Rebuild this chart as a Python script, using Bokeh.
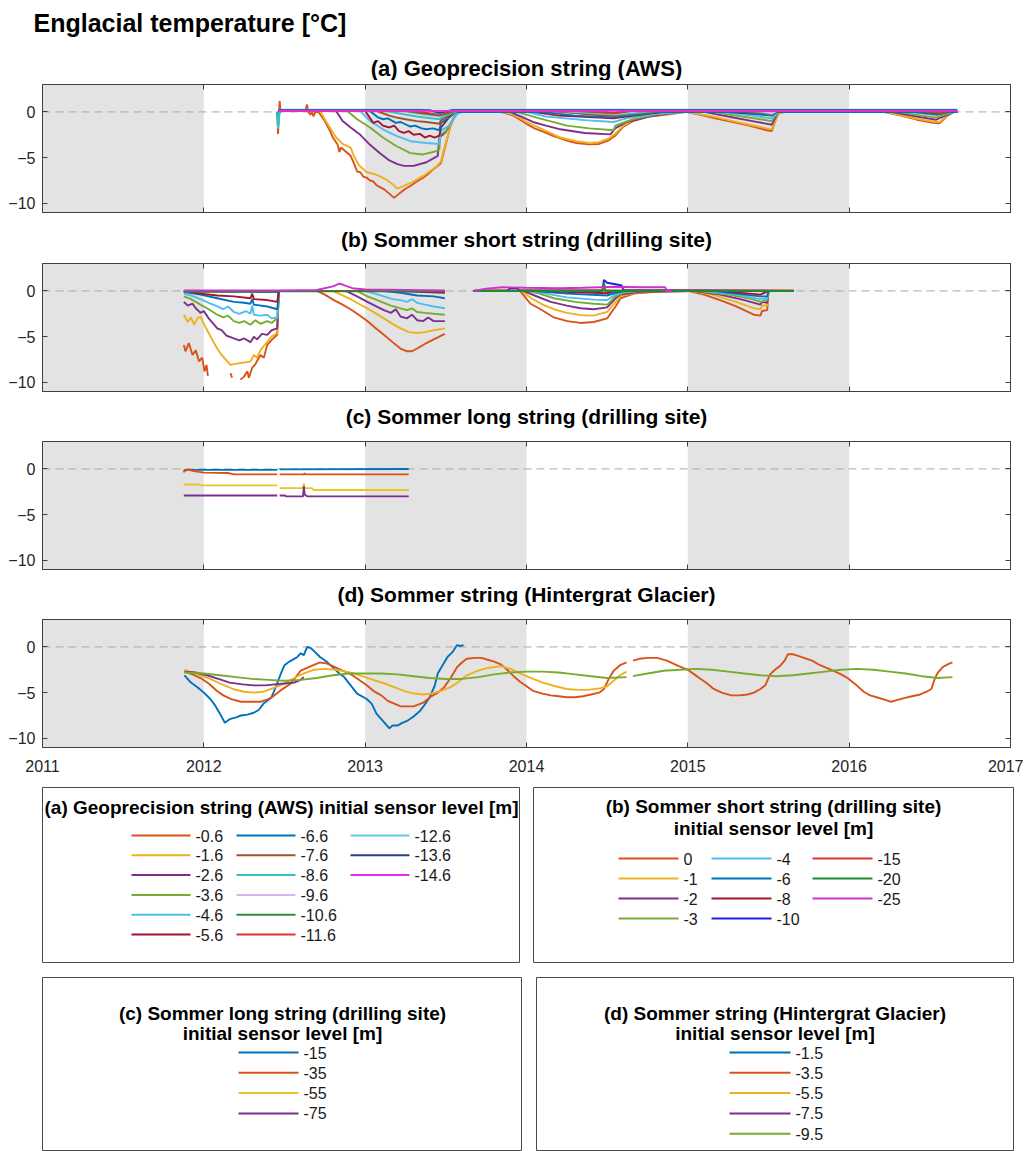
import numpy as np
from bokeh.plotting import figure
from bokeh.layouts import column, row
from bokeh.models import Range1d, FixedTicker, BoxAnnotation, Span, LinearAxis
from bokeh.embed import file_html
from bokeh.resources import INLINE
from bokeh.core.properties import value

nan = float("nan")

# ---------------- axes / shading data ----------------
year_ticks = [2011, 2012, 2013, 2014, 2015, 2016, 2017]
temp_ticks = [-10, -5, 0]
shade_start = [2011, 2013, 2015]
shade_end = [2012, 2014, 2016]
x_limits = [2011, 2017]
y_limits = [-11, 3]

main_title = "Englacial temperature [°C]"
panel_titles = ["(a) Geoprecision string (AWS)", "(b) Sommer short string (drilling site)",
                "(c) Sommer long string (drilling site)", "(d) Sommer string (Hintergrat Glacier)"]

# ---------------- (a) Geoprecision string (AWS) ----------------
a_labels = ["-0.6", "-1.6", "-2.6", "-3.6", "-4.6", "-5.6", "-6.6", "-7.6",
            "-8.6", "-9.6", "-10.6", "-11.6", "-12.6", "-13.6", "-14.6"]

a_t_06 = [2012.455, 2012.46, 2012.465, 2012.47, 2012.475, 2012.50, 2012.63, 2012.64, 2012.645, 2012.66,
          2012.67, 2012.68, 2012.69, 2012.71, 2012.75, 2012.78, 2012.80, 2012.83, 2012.84, 2012.85,
          2012.87, 2012.89, 2012.91, 2012.93, 2012.95, 2012.97, 2012.99, 2013.01, 2013.03, 2013.05,
          2013.07, 2013.10, 2013.12, 2013.14, 2013.16, 2013.18, 2013.20, 2013.22, 2013.25, 2013.28,
          2013.32, 2013.36, 2013.39, 2013.42, 2013.45, 2013.47, 2013.49, 2013.51, 2013.53, 2013.55,
          2013.58, 2013.84, 2013.92, 2014.00, 2014.05, 2014.11, 2014.16, 2014.21, 2014.26, 2014.31,
          2014.39, 2014.45, 2014.51, 2014.55, 2014.60, 2014.66, 2014.76, 2014.91, 2014.99, 2015.07,
          2015.17, 2015.28, 2015.38, 2015.49, 2015.52, 2015.54, 2015.56, 2015.60, 2016.21, 2016.32,
          2016.42, 2016.52, 2016.56, 2016.61, 2016.65, 2016.67]
a_v_06 = [0.0, -2.4, -0.5, 1.2, 0.1, 0.15, 0.15, 0.8, 0.1, -0.3,
          0.0, -0.5, 0.0, 0.0, -1.0, -2.0, -2.8, -3.6, -4.4, -3.9,
          -4.2, -4.5, -4.8, -5.6, -6.5, -6.6, -7.1, -7.2, -7.5, -7.6,
          -8.0, -8.3, -8.5, -8.8, -9.1, -9.4, -9.1, -8.8, -8.4, -8.1,
          -7.6, -7.2, -6.8, -6.3, -5.9, -5.6, -4.2, -2.8, -1.5, -0.6,
          0.0, 0.0, -0.4, -1.3, -1.8, -2.2, -2.6, -2.9, -3.2, -3.4,
          -3.55, -3.5, -3.1, -2.6, -1.6, -1.0, -0.5, -0.2, 0.0, -0.3,
          -0.7, -1.1, -1.5, -2.0, -2.1, -1.1, -0.2, 0.0, 0.0, -0.4,
          -0.85, -1.2, -1.25, -0.4, 0.0, 0.0]

a_t_16 = [2012.455, 2012.46, 2012.47, 2012.72, 2012.77, 2012.82, 2012.86, 2012.91, 2012.93, 2012.96,
          2013.01, 2013.06, 2013.10, 2013.13, 2013.17, 2013.20, 2013.24, 2013.28, 2013.32, 2013.36,
          2013.40, 2013.44, 2013.47, 2013.49, 2013.51, 2013.53, 2013.56, 2013.58, 2013.85, 2013.92,
          2014.00, 2014.11, 2014.21, 2014.31, 2014.39, 2014.45, 2014.51, 2014.55, 2014.60, 2014.66,
          2014.76, 2014.91, 2015.00, 2015.08, 2015.18, 2015.28, 2015.38, 2015.49, 2015.52, 2015.54,
          2015.56, 2015.60, 2016.22, 2016.32, 2016.42, 2016.52, 2016.56, 2016.61, 2016.65, 2016.67]
a_v_16 = [0.0, -0.8, 0.1, 0.1, -1.4, -2.8, -3.5, -3.9, -4.8, -5.8,
          -6.6, -6.8, -7.1, -7.4, -7.9, -8.4, -8.1, -7.8, -7.4, -7.0,
          -6.5, -6.0, -5.4, -4.0, -2.8, -1.4, -0.4, 0.0, 0.0, -0.3,
          -1.1, -2.0, -2.8, -3.2, -3.4, -3.3, -2.9, -2.4, -1.5, -0.9,
          -0.45, -0.15, 0.0, -0.25, -0.6, -1.0, -1.4, -1.8, -1.9, -1.0,
          -0.2, 0.0, 0.0, -0.35, -0.75, -1.05, -1.1, -0.35, 0.0, 0.0]

a_t_26 = [2012.455, 2012.46, 2012.47, 2012.82, 2012.86, 2012.91, 2012.97, 2013.03, 2013.09, 2013.15,
          2013.20, 2013.24, 2013.30, 2013.38, 2013.45, 2013.46, 2013.50, 2013.53, 2013.56, 2013.58,
          2013.90, 2014.04, 2014.12, 2014.21, 2014.36, 2014.52, 2014.55, 2014.62, 2014.76, 2014.95,
          2015.10, 2015.25, 2015.40, 2015.52, 2015.54, 2015.56, 2016.26, 2016.40, 2016.54, 2016.61,
          2016.65, 2016.67]
a_v_26 = [0.0, -0.6, 0.1, 0.1, -1.0, -1.7, -2.5, -3.6, -4.5, -5.3,
          -5.7, -5.9, -5.9, -5.5, -4.8, -2.8, -2.2, -1.2, -0.4, 0.0,
          0.0, -1.1, -1.5, -1.9, -2.3, -2.45, -1.8, -1.1, -0.5, 0.0,
          0.0, -0.5, -1.0, -1.4, -0.7, 0.0, 0.0, -0.45, -0.85, -0.3,
          0.0, 0.0]

a_t_36 = [2012.455, 2012.46, 2012.47, 2012.89, 2012.95, 2013.03, 2013.11, 2013.19, 2013.28, 2013.36,
          2013.44, 2013.46, 2013.465, 2013.50, 2013.53, 2013.56, 2013.58, 2013.94, 2014.08, 2014.25,
          2014.39, 2014.54, 2014.55, 2014.66, 2014.80, 2014.95, 2015.15, 2015.30, 2015.45, 2015.52,
          2015.54, 2015.56, 2016.30, 2016.45, 2016.54, 2016.61, 2016.65, 2016.67]
a_v_36 = [0.0, -0.5, 0.1, 0.1, -0.8, -1.7, -2.8, -3.7, -4.5, -4.65,
          -4.3, -4.1, -2.5, -2.1, -1.2, -0.4, 0.0, 0.0, -0.7, -1.5,
          -1.8, -2.0, -1.5, -0.8, -0.3, 0.0, 0.0, -0.4, -0.8, -1.0,
          -0.5, 0.0, 0.0, -0.4, -0.6, -0.2, 0.0, 0.0]

a_t_46 = [2012.455, 2012.46, 2012.47, 2012.97, 2013.03, 2013.11, 2013.19, 2013.28, 2013.38, 2013.46,
          2013.465, 2013.52, 2013.57, 2013.60, 2014.00, 2014.12, 2014.36, 2014.54, 2014.62, 2014.80,
          2014.95, 2015.20, 2015.40, 2015.52, 2015.54, 2015.56, 2016.35, 2016.54, 2016.61, 2016.67]
a_v_46 = [0.0, -1.8, 0.1, 0.1, -1.0, -1.9, -2.6, -3.2, -3.4, -3.5,
          -2.1, -1.5, -0.2, 0.0, 0.0, -0.5, -0.9, -1.1, -0.7, -0.2,
          0.0, 0.0, -0.4, -0.7, -0.3, 0.0, 0.0, -0.35, -0.1, 0.0]

a_t_56 = [2012.455, 2012.46, 2012.47, 2013.00, 2013.05, 2013.08, 2013.11, 2013.15, 2013.18, 2013.21,
          2013.24, 2013.27, 2013.30, 2013.34, 2013.37, 2013.40, 2013.43, 2013.46, 2013.47, 2013.52,
          2013.56, 2014.04, 2014.20, 2014.54, 2014.62, 2014.85, 2015.25, 2015.52, 2015.55, 2016.40,
          2016.55, 2016.62, 2016.67]
a_v_56 = [0.0, -0.7, 0.1, 0.1, -1.2, -1.0, -1.5, -1.7, -1.5, -2.1,
          -2.3, -2.1, -2.5, -2.4, -2.8, -2.6, -2.8, -2.6, -1.7, -0.6,
          0.0, 0.0, -0.4, -0.7, -0.5, 0.0, 0.0, -0.35, 0.0, 0.0,
          -0.25, 0.0, 0.0]

a_t_66 = [2012.455, 2012.46, 2012.47, 2013.03, 2013.08, 2013.11, 2013.14, 2013.19, 2013.22, 2013.28,
          2013.31, 2013.35, 2013.38, 2013.42, 2013.46, 2013.47, 2013.52, 2013.56, 2014.10, 2014.30,
          2014.54, 2014.62, 2014.85, 2015.30, 2015.52, 2015.55, 2016.42, 2016.55, 2016.62, 2016.67]
a_v_66 = [0.0, -0.6, 0.1, 0.1, -0.6, -0.8, -0.7, -1.2, -1.1, -1.6,
          -1.5, -1.8, -1.9, -1.8, -2.0, -1.2, -0.6, 0.0, 0.0, -0.4,
          -0.6, -0.4, 0.0, 0.0, -0.4, 0.0, 0.0, -0.2, 0.0, 0.0]

a_t_76 = [2012.46, 2013.07, 2013.15, 2013.19, 2013.25, 2013.32, 2013.38, 2013.46, 2013.47, 2013.53,
          2013.56, 2014.15, 2014.40, 2014.55, 2014.62, 2014.85, 2015.35, 2015.52, 2015.55, 2016.45,
          2016.56, 2016.62, 2016.67]
a_v_76 = [0.1, 0.1, -0.4, -0.6, -0.8, -1.0, -1.1, -1.3, -0.9, -0.3,
          0.1, 0.1, -0.3, -0.45, -0.3, 0.1, 0.1, -0.3, 0.1, 0.1,
          -0.15, 0.1, 0.1]

a_t_86 = [2012.455, 2012.46, 2012.47, 2013.13, 2013.25, 2013.32, 2013.46, 2013.48, 2013.54, 2013.57,
          2014.20, 2014.55, 2014.62, 2014.80, 2015.40, 2015.52, 2015.55, 2016.67]
a_v_86 = [0.0, -1.6, 0.1, 0.1, -0.3, -0.5, -0.8, -0.5, -0.1, 0.1,
          0.1, -0.3, -0.2, 0.1, 0.1, -0.2, 0.1, 0.1]

a_t_96 = [2012.46, 2013.20, 2013.32, 2013.46, 2013.50, 2013.56, 2014.25, 2014.55, 2014.70, 2015.45,
          2015.52, 2015.55, 2016.67]
a_v_96 = [0.1, 0.1, -0.2, -0.5, -0.2, 0.1, 0.1, -0.2, 0.1, 0.1,
          -0.15, 0.1, 0.1]

a_t_106 = [2012.46, 2013.25, 2013.35, 2013.46, 2013.52, 2013.56, 2014.30, 2014.55, 2014.65, 2016.67]
a_v_106 = [0.1, 0.1, -0.15, -0.4, -0.1, 0.1, 0.1, -0.15, 0.1, 0.1]

a_t_116 = [2012.46, 2013.30, 2013.46, 2013.52, 2013.56, 2014.35, 2014.55, 2014.62, 2016.67]
a_v_116 = [0.1, 0.1, -0.3, 0.0, 0.1, 0.1, -0.1, 0.1, 0.1]

a_t_126 = [2012.46, 2013.35, 2013.46, 2013.54, 2016.67]
a_v_126 = [0.25, 0.25, -0.15, 0.25, 0.25]

a_t_136 = [2012.46, 2013.40, 2013.46, 2013.54, 2016.67]
a_v_136 = [0.2, 0.2, -0.1, 0.2, 0.2]

a_t_146 = [2012.46, 2016.67]
a_v_146 = [0.12, 0.12]

# ---------------- (b) Sommer short string (drilling site) ----------------
b_labels = ["0", "-1", "-2", "-3", "-4", "-6", "-8", "-10", "-15", "-20", "-25"]

b_t_0 = [2011.876, 2011.886, 2011.907, 2011.93, 2011.95, 2011.97, 2011.99, 2012.004, 2012.017, 2012.025,
         2012.03, 2012.165, 2012.175, 2012.18, 2012.227, 2012.248, 2012.27, 2012.279, 2012.30, 2012.32,
         2012.351, 2012.372, 2012.393, 2012.424, 2012.455, 2012.465, 2012.70, 2012.75, 2012.806, 2012.86,
         2012.909, 2012.96, 2013.013, 2013.06, 2013.116, 2013.17, 2013.219, 2013.26, 2013.29, 2013.322,
         2013.37, 2013.425, 2013.494, 2013.50, 2013.673, 2013.96, 2014.025, 2014.087, 2014.17, 2014.252,
         2014.335, 2014.417, 2014.50, 2014.552, 2014.583, 2014.665, 2014.80, 2015.0, 2015.1, 2015.2,
         2015.3, 2015.409, 2015.45, 2015.46, 2015.492, 2015.50, 2015.657]
b_v_0 = [-5.9, -6.6, -5.7, -7.0, -6.5, -7.7, -7.3, -8.8, -8.1, -9.3,
         nan, -9.0, -9.5, nan, -9.7, -9.4, -8.8, -9.5, -8.4, -8.0,
         -7.0, -7.3, -5.9, -5.3, -4.8, 0.0, 0.0, -0.4, -1.0, -1.5,
         -2.0, -2.6, -3.3, -4.0, -4.8, -5.6, -6.3, -6.6, -6.6, -6.3,
         -5.8, -5.3, -4.7, nan, 0.0, 0.0, -1.4, -2.0, -2.9, -3.3,
         -3.5, -3.4, -3.0, -1.7, -0.8, -0.3, -0.1, 0.0, -0.4, -1.0,
         -1.7, -2.6, -2.7, -2.2, -2.1, 0.0, 0.0]

b_t_1 = [2011.876, 2011.90, 2011.92, 2011.94, 2011.96, 2011.979, 2012.00, 2012.03, 2012.06, 2012.083,
         2012.11, 2012.14, 2012.165, 2012.186, 2012.22, 2012.26, 2012.29, 2012.31, 2012.33, 2012.351,
         2012.372, 2012.393, 2012.42, 2012.455, 2012.465, 2012.80, 2012.85, 2012.909, 2012.96, 2013.013,
         2013.06, 2013.116, 2013.17, 2013.219, 2013.27, 2013.322, 2013.37, 2013.425, 2013.494, 2013.50,
         2013.673, 2013.97, 2014.03, 2014.10, 2014.17, 2014.25, 2014.335, 2014.417, 2014.50, 2014.552,
         2014.583, 2014.665, 2014.80, 2015.02, 2015.15, 2015.30, 2015.41, 2015.45, 2015.46, 2015.492,
         2015.50, 2015.657]
b_v_1 = [-2.6, -3.4, -2.9, -3.7, -3.0, -2.8, -3.6, -4.6, -5.6, -6.3,
         -7.0, -7.6, -8.1, -8.0, -7.9, -7.8, -7.7, -7.0, -7.3, -6.5,
         -6.0, -5.6, -5.0, -4.6, 0.0, 0.0, -0.4, -0.9, -1.4, -1.9,
         -2.4, -3.0, -3.6, -4.1, -4.5, -4.6, -4.5, -4.3, -4.1, nan,
         0.0, 0.0, -0.8, -1.5, -2.0, -2.4, -2.65, -2.7, -2.3, -1.2,
         -0.6, -0.2, -0.05, 0.0, -0.4, -1.2, -1.9, -2.0, -1.6, -1.6,
         0.0, 0.0]

b_t_2 = [2011.876, 2011.90, 2011.93, 2011.95, 2011.979, 2012.00, 2012.03, 2012.06, 2012.083, 2012.11,
         2012.14, 2012.186, 2012.22, 2012.25, 2012.289, 2012.31, 2012.33, 2012.36, 2012.393, 2012.42,
         2012.455, 2012.465, 2012.88, 2012.95, 2013.013, 2013.06, 2013.116, 2013.16, 2013.19, 2013.219,
         2013.26, 2013.29, 2013.322, 2013.36, 2013.39, 2013.425, 2013.494, 2013.50, 2013.673, 2013.98,
         2014.05, 2014.15, 2014.25, 2014.335, 2014.417, 2014.50, 2014.552, 2014.583, 2014.70, 2015.03,
         2015.20, 2015.35, 2015.45, 2015.46, 2015.492, 2015.50, 2015.657]
b_v_2 = [-1.2, -1.6, -1.4, -1.9, -2.4, -2.2, -3.0, -3.6, -4.1, -4.3,
         -4.9, -5.2, -5.4, -5.2, -5.6, -5.0, -5.3, -4.7, -4.8, -4.3,
         -4.1, 0.0, 0.0, -0.6, -1.2, -1.6, -2.1, -2.4, -2.0, -2.8,
         -3.0, -2.6, -3.2, -3.3, -2.9, -3.3, -3.3, nan, 0.0, 0.0,
         -0.5, -1.2, -1.6, -1.9, -2.0, -1.8, -0.8, -0.4, -0.1, 0.0,
         -0.4, -1.0, -1.5, -1.2, -1.3, 0.0, 0.0]

b_t_3 = [2011.876, 2011.92, 2011.95, 2011.979, 2012.03, 2012.083, 2012.12, 2012.15, 2012.186, 2012.22,
         2012.25, 2012.289, 2012.32, 2012.35, 2012.393, 2012.42, 2012.455, 2012.465, 2012.95, 2013.013,
         2013.06, 2013.116, 2013.16, 2013.219, 2013.26, 2013.29, 2013.322, 2013.37, 2013.425, 2013.494,
         2013.50, 2013.673, 2014.00, 2014.08, 2014.17, 2014.30, 2014.417, 2014.50, 2014.552, 2014.60,
         2014.70, 2015.05, 2015.25, 2015.40, 2015.45, 2015.492, 2015.50, 2015.657]
b_v_3 = [-0.6, -0.9, -1.2, -1.5, -2.0, -2.6, -2.9, -2.7, -3.3, -3.5,
         -3.3, -3.7, -3.2, -3.6, -3.3, -3.5, -3.0, 0.0, 0.0, -0.6,
         -0.9, -1.3, -1.6, -1.9, -2.1, -1.9, -2.3, -2.4, -2.5, -2.6,
         nan, 0.0, 0.0, -0.3, -0.8, -1.2, -1.4, -1.5, -0.6, -0.2,
         0.0, 0.0, -0.4, -0.9, -1.2, -1.0, 0.0, 0.0]

b_t_4 = [2011.876, 2011.92, 2011.979, 2012.03, 2012.083, 2012.12, 2012.15, 2012.186, 2012.22, 2012.26,
         2012.289, 2012.30, 2012.31, 2012.35, 2012.393, 2012.42, 2012.455, 2012.465, 2013.00, 2013.06,
         2013.116, 2013.17, 2013.219, 2013.26, 2013.29, 2013.322, 2013.37, 2013.425, 2013.494, 2013.50,
         2013.673, 2014.02, 2014.12, 2014.25, 2014.417, 2014.50, 2014.552, 2014.60, 2014.70, 2015.08,
         2015.30, 2015.45, 2015.492, 2015.50, 2015.657]
b_v_4 = [-0.3, -0.5, -0.9, -1.3, -1.7, -2.0, -1.7, -2.3, -2.5, -2.2,
         -2.5, -1.6, -2.6, -2.7, -2.6, -3.0, -2.9, 0.0, 0.0, -0.3,
         -0.6, -0.9, -1.0, -1.2, -0.9, -1.3, -1.5, -1.7, -1.9, nan,
         0.0, 0.0, -0.3, -0.7, -0.95, -1.0, -0.4, -0.1, 0.0, 0.0,
         -0.4, -0.9, -0.8, 0.0, 0.0]

b_t_6 = [2011.876, 2011.979, 2012.083, 2012.186, 2012.25, 2012.289, 2012.30, 2012.31, 2012.393, 2012.455,
         2012.465, 2013.10, 2013.219, 2013.322, 2013.425, 2013.494, 2013.50, 2013.673, 2014.05, 2014.25,
         2014.50, 2014.552, 2014.62, 2015.15, 2015.45, 2015.492, 2015.50, 2015.657]
b_v_6 = [-0.1, -0.4, -0.8, -1.2, -1.3, -1.4, -0.9, -1.5, -1.7, -2.0,
         0.0, 0.0, -0.2, -0.5, -0.6, -0.8, nan, 0.0, 0.0, -0.3,
         -0.5, -0.2, 0.0, 0.0, -0.6, -0.6, 0.0, 0.0]

b_t_8 = [2011.876, 2011.979, 2012.083, 2012.186, 2012.289, 2012.30, 2012.31, 2012.393, 2012.455, 2012.465,
         2013.20, 2013.494, 2013.50, 2013.673, 2014.10, 2014.50, 2014.552, 2015.20, 2015.45, 2015.50,
         2015.657]
b_v_8 = [0.0, -0.3, -0.5, -0.6, -0.8, -0.3, -0.9, -1.0, -1.2, 0.0,
         0.0, -0.2, nan, 0.0, 0.0, -0.25, 0.0, 0.0, -0.4, 0.0,
         0.0]

b_t_10 = [2011.876, 2012.455, 2012.465, 2013.494, 2013.50, 2013.673, 2013.88, 2013.90, 2013.94, 2013.96,
          2014.47, 2014.48, 2014.50, 2014.56, 2014.59, 2014.60, 2015.657]
b_v_10 = [0.0, -0.1, 0.0, 0.0, nan, 0.0, 0.05, 0.3, 0.3, 0.05,
          0.05, 1.2, 0.9, 0.7, 0.6, 0.1, 0.0]

b_t_15 = [2011.876, 2012.455, 2012.465, 2013.494, 2013.50, 2013.673, 2015.657]
b_v_15 = [-0.05, -0.05, 0.0, 0.0, nan, 0.05, 0.05]

b_t_20 = [2011.876, 2012.455, 2012.465, 2013.494, 2013.50, 2013.673, 2014.47, 2014.48, 2014.49, 2015.657]
b_v_20 = [-0.1, -0.1, -0.05, -0.05, nan, 0.0, 0.0, 0.9, 0.0, 0.0]

b_t_25 = [2011.876, 2012.455, 2012.465, 2012.70, 2012.80, 2012.84, 2012.86, 2012.92, 2013.00, 2013.494,
          2013.50, 2013.673, 2013.75, 2013.85, 2014.00, 2014.20, 2014.35, 2014.45, 2014.55, 2014.70,
          2014.86, 2014.87, 2014.90]
b_v_25 = [0.05, 0.05, 0.05, 0.1, 0.5, 0.8, 0.7, 0.3, 0.15, 0.05,
          nan, 0.0, 0.25, 0.4, 0.35, 0.3, 0.35, 0.4, 0.45, 0.4,
          0.4, 0.0, 0.0]

# ---------------- (c) Sommer long string (drilling site) ----------------
c_labels = ["-15", "-35", "-55", "-75"]

c_t_15 = [2011.876, 2012.455, 2012.46, 2012.47, 2013.27]
c_v_15 = [-0.1, -0.1, nan, -0.05, 0.0]

c_t_35 = [2011.876, 2011.88, 2011.89, 2011.90, 2011.93, 2011.96, 2012.00, 2012.15, 2012.186, 2012.455,
          2012.46, 2012.47, 2012.62, 2012.625, 2012.63, 2013.27]
c_v_35 = [-0.4, -0.1, -0.2, -0.05, -0.2, -0.3, -0.4, -0.45, -0.6, -0.6,
          nan, -0.6, -0.6, -0.5, -0.6, -0.6]

c_t_55 = [2011.876, 2011.97, 2011.98, 2012.455, 2012.46, 2012.47, 2012.615, 2012.62, 2012.625, 2012.67,
          2012.68, 2013.27]
c_v_55 = [-1.7, -1.7, -1.8, -1.8, nan, -2.1, -2.1, -1.6, -2.1, -2.1,
          -2.3, -2.3]

c_t_75 = [2011.876, 2012.455, 2012.46, 2012.47, 2012.50, 2012.51, 2012.615, 2012.62, 2012.625, 2012.64,
          2013.27]
c_v_75 = [-2.9, -2.9, nan, -2.9, -2.9, -3.0, -3.0, -1.9, -2.8, -3.0,
          -3.0]

# ---------------- (d) Sommer string (Hintergrat Glacier) ----------------
d_labels = ["-1.5", "-3.5", "-5.5", "-7.5", "-9.5"]

d_t_15 = [2011.88, 2011.92, 2011.96, 2012.00, 2012.04, 2012.07, 2012.10, 2012.13, 2012.16, 2012.20,
          2012.23, 2012.27, 2012.31, 2012.34, 2012.37, 2012.40, 2012.42, 2012.45, 2012.48, 2012.50,
          2012.53, 2012.56, 2012.58, 2012.60, 2012.62, 2012.64, 2012.66, 2012.68, 2012.72, 2012.76,
          2012.81, 2012.84, 2012.87, 2012.91, 2012.95, 2013.01, 2013.04, 2013.07, 2013.10, 2013.13,
          2013.15, 2013.17, 2013.20, 2013.23, 2013.26, 2013.30, 2013.34, 2013.37, 2013.40, 2013.43,
          2013.45, 2013.48, 2013.51, 2013.54, 2013.57, 2013.59, 2013.61]
d_v_15 = [-3.1, -3.9, -4.4, -5.0, -5.7, -6.4, -7.3, -8.3, -7.9, -7.7,
          -7.5, -7.4, -7.2, -6.9, -6.2, -5.8, -5.5, -4.2, -2.8, -2.0,
          -1.6, -1.3, -1.1, -0.7, -0.9, 0.0, -0.1, -0.4, -1.1, -1.6,
          -2.4, -2.9, -3.3, -4.2, -5.1, -5.7, -6.2, -7.3, -7.9, -8.5,
          -8.9, -8.6, -8.6, -8.3, -8.1, -7.6, -7.0, -6.3, -5.5, -4.3,
          -2.9, -2.0, -1.1, -0.6, 0.2, 0.1, 0.2]

d_t_35 = [2011.88, 2011.93, 2011.98,
          2012.03, 2012.08, 2012.12, 2012.17, 2012.23, 2012.29, 2012.35, 2012.40, 2012.43, 2012.48,
          2012.54, 2012.57, 2012.60, 2012.65, 2012.69, 2012.72, 2012.76, 2012.80, 2012.85, 2012.89,
          2012.93, 2012.97,
          2013.01, 2013.05, 2013.10, 2013.14, 2013.18, 2013.22, 2013.30, 2013.36, 2013.41, 2013.45,
          2013.49, 2013.53, 2013.57, 2013.60, 2013.63, 2013.68, 2013.72, 2013.76, 2013.80, 2013.84,
          2013.88, 2013.92, 2013.96,
          2014.00, 2014.04, 2014.10, 2014.15, 2014.20, 2014.25, 2014.30, 2014.35, 2014.40, 2014.45,
          2014.48, 2014.51, 2014.54, 2014.58, 2014.62, 2014.64, 2014.66, 2014.70, 2014.75, 2014.81,
          2014.87, 2014.93,
          2015.00, 2015.04, 2015.08, 2015.12, 2015.16, 2015.21, 2015.27, 2015.32, 2015.37, 2015.41,
          2015.45, 2015.48, 2015.51, 2015.54, 2015.57, 2015.60, 2015.62, 2015.65, 2015.67, 2015.72,
          2015.77, 2015.82, 2015.86, 2015.90, 2015.95, 2015.99,
          2016.04, 2016.09, 2016.13, 2016.17, 2016.21, 2016.26, 2016.30, 2016.34, 2016.39, 2016.44,
          2016.48, 2016.51, 2016.53, 2016.55, 2016.58, 2016.61, 2016.64]
d_v_35 = [-2.7, -3.0, -3.4,
          -4.0, -4.8, -5.3, -5.7, -6.0, -6.0, -6.0, -5.7, -5.4, -4.7,
          -4.0, -3.3, -2.6, -2.2, -1.9, -1.7, -1.8, -2.1, -2.5, -2.8,
          -3.2, -3.7,
          -4.2, -4.8, -5.3, -5.9, -6.2, -6.5, -6.5, -6.1, -5.4, -5.0,
          -4.4, -3.4, -2.2, -1.7, -1.3, -1.2, -1.2, -1.4, -1.6, -1.9,
          -2.5, -3.2, -3.8,
          -4.3, -4.8, -5.1, -5.3, -5.4, -5.5, -5.5, -5.4, -5.2, -5.0,
          -4.6, -3.5, -2.6, -2.0, -1.7, nan, -1.5, -1.3, -1.2, -1.2,
          -1.5, -2.0,
          -2.5, -3.0, -3.5, -4.0, -4.6, -5.0, -5.3, -5.3, -5.2, -5.0,
          -4.6, -4.2, -3.0, -2.5, -2.1, -1.5, -0.8, -0.8, -0.9, -1.2,
          -1.5, -2.0, -2.3, -2.6, -3.0, -3.4,
          -4.1, -4.9, -5.3, -5.5, -5.7, -6.0, -5.8, -5.6, -5.4, -5.2,
          -4.9, -4.6, -3.5, -2.8, -2.2, -1.9, -1.7]

d_t_55 = [2011.88, 2011.93, 2011.98, 2012.04, 2012.10, 2012.18, 2012.25, 2012.31, 2012.37, 2012.43,
          2012.50, 2012.56, 2012.62, 2012.68, 2012.75, 2012.82, 2012.88, 2012.93, 2013.00, 2013.05,
          2013.12, 2013.18, 2013.24, 2013.30, 2013.36, 2013.41, 2013.47, 2013.53, 2013.58, 2013.63,
          2013.70, 2013.76, 2013.84, 2013.90, 2013.96, 2014.03, 2014.10, 2014.18, 2014.25, 2014.32,
          2014.38, 2014.46, 2014.50, 2014.54, 2014.58, 2014.62]
d_v_55 = [-2.5, -2.8, -3.1, -3.5, -4.0, -4.6, -4.9, -5.0, -4.9, -4.5,
          -4.0, -3.4, -2.9, -2.5, -2.4, -2.5, -2.7, -2.9, -3.3, -3.6,
          -4.0, -4.4, -4.8, -5.1, -5.2, -5.1, -4.8, -4.4, -3.8, -3.1,
          -2.6, -2.3, -2.1, -2.4, -2.9, -3.4, -3.9, -4.3, -4.6, -4.7,
          -4.7, -4.5, -4.3, -3.7, -3.1, -2.7]

d_t_75 = [2011.88, 2011.95, 2012.02, 2012.09, 2012.16, 2012.24, 2012.31, 2012.38, 2012.44, 2012.50,
          2012.56, 2012.60, 2012.62]
d_v_75 = [-2.7, -2.8, -3.1, -3.5, -3.9, -4.1, -4.2, -4.2, -4.1, -4.0,
          -3.9, -3.6, -3.3]

d_t_95 = [2011.88, 2012.00, 2012.10, 2012.20, 2012.30, 2012.40, 2012.50, 2012.60, 2012.70, 2012.80,
          2012.90, 2013.00, 2013.10, 2013.20, 2013.30, 2013.40, 2013.50, 2013.60, 2013.70, 2013.80,
          2013.90, 2014.00, 2014.10, 2014.20, 2014.30, 2014.40, 2014.50, 2014.62, 2014.64, 2014.66,
          2014.75, 2014.85, 2014.95, 2015.05, 2015.15, 2015.25, 2015.35, 2015.45, 2015.55, 2015.65,
          2015.75, 2015.85, 2015.95, 2016.05, 2016.15, 2016.25, 2016.35, 2016.45, 2016.55, 2016.64]
d_v_95 = [-2.8, -2.9, -3.1, -3.3, -3.5, -3.6, -3.7, -3.6, -3.4, -3.1,
          -2.9, -2.9, -2.9, -3.0, -3.2, -3.4, -3.5, -3.5, -3.3, -3.0,
          -2.8, -2.7, -2.7, -2.8, -3.0, -3.2, -3.4, -3.3, nan, -3.2,
          -2.9, -2.6, -2.5, -2.4, -2.5, -2.7, -2.9, -3.1, -3.2, -3.1,
          -2.9, -2.7, -2.5, -2.4, -2.5, -2.7, -2.9, -3.2, -3.4, -3.3]

# ---------------- styling ----------------
FONT = "Liberation Sans"
AXC = "#404040"
SHADE = "#e3e3e3"
PAGE_W = 1023
LINE_W = 1.9
a_colors = ["#D95319", "#EDB120", "#7E2F8E", "#77AC30", "#4DBEEE", "#A2142F", "#0072BD", "#A0522D",
            "#2EC4C4", "#D9B3F2", "#2E8B3A", "#E4312F", "#66C7EE", "#283E8F", "#E62EE6"]
b_colors = ["#D95319", "#EDB120", "#7E2F8E", "#77AC30", "#4DBEEE", "#0072BD", "#A2142F", "#1E1EE6",
            "#E4312F", "#1E8C2E", "#CC33CC"]
c_colors = ["#0072BD", "#D95319", "#EDC428", "#7E2F8E"]
d_colors = ["#0072BD", "#D95319", "#EDB120", "#7E2F8E", "#77AC30"]

a_series = [(a_t_06, a_v_06), (a_t_16, a_v_16), (a_t_26, a_v_26), (a_t_36, a_v_36), (a_t_46, a_v_46),
            (a_t_56, a_v_56), (a_t_66, a_v_66), (a_t_76, a_v_76), (a_t_86, a_v_86), (a_t_96, a_v_96),
            (a_t_106, a_v_106), (a_t_116, a_v_116), (a_t_126, a_v_126), (a_t_136, a_v_136),
            (a_t_146, a_v_146)]
b_series = [(b_t_0, b_v_0), (b_t_1, b_v_1), (b_t_2, b_v_2), (b_t_3, b_v_3), (b_t_4, b_v_4),
            (b_t_6, b_v_6), (b_t_8, b_v_8), (b_t_10, b_v_10), (b_t_15, b_v_15), (b_t_20, b_v_20),
            (b_t_25, b_v_25)]
c_series = [(c_t_15, c_v_15), (c_t_35, c_v_35), (c_t_55, c_v_55), (c_t_75, c_v_75)]
d_series = [(d_t_15, d_v_15), (d_t_35, d_v_35), (d_t_55, d_v_55), (d_t_75, d_v_75), (d_t_95, d_v_95)]

for grp in (a_series, b_series, c_series, d_series):
    for t, v in grp:
        assert len(t) == len(v), (len(t), len(v), t[:3])


def style_axis(ax, ticks, show_labels, standoff):
    ax.ticker = FixedTicker(ticks=ticks, minor_ticks=[])
    ax.major_tick_in = 5
    ax.major_tick_out = 0
    ax.minor_tick_line_color = None
    ax.axis_line_color = AXC
    ax.major_tick_line_color = AXC
    ax.major_label_text_font = FONT
    ax.major_label_text_color = "#262626"
    if show_labels:
        ax.major_label_text_font_size = "16px"
        ax.major_label_standoff = standoff
    else:
        ax.major_label_overrides = {t: "" for t in ticks}
        ax.major_label_text_font_size = "0px"
        ax.major_label_standoff = 0


def make_panel(series, colors, bottom, show_x):
    p = figure(frame_width=968, frame_height=128,
               x_range=Range1d(x_limits[0], x_limits[1]), y_range=Range1d(y_limits[0], y_limits[1]),
               x_axis_type=None, y_axis_type=None, output_backend="svg", toolbar_location=None,
               min_border_left=42, min_border_right=13, min_border_top=4, min_border_bottom=bottom,
               outline_line_color=AXC, outline_line_width=1)
    for s, e in zip(shade_start, shade_end):
        p.add_layout(BoxAnnotation(left=s, right=e, fill_color=SHADE, fill_alpha=1.0,
                                   line_color=None, level="underlay"))
    p.add_layout(Span(location=0, dimension="width", line_color="#a8a8a8", line_width=1,
                      line_dash="8 5", level="underlay"))
    for (t, v), c in zip(series, colors):
        p.line(x=np.array(t, dtype=float), y=np.array(v, dtype=float), line_color=c, line_width=LINE_W)
    for side, ticks, lab, so in (("left", temp_ticks, True, 7), ("right", temp_ticks, False, 0),
                                 ("below", year_ticks, show_x, 12), ("above", year_ticks, False, 0)):
        ax = LinearAxis()
        style_axis(ax, ticks, lab, so)
        p.add_layout(ax, side)
    return p


def make_header(H, items):
    # items: (text, x, middle_y, font_size, align) in page pixels of this strip
    p = figure(frame_width=PAGE_W, frame_height=H, x_range=Range1d(0, PAGE_W), y_range=Range1d(H, 0),
               x_axis_type=None, y_axis_type=None, output_backend="svg", toolbar_location=None,
               min_border_left=0, min_border_right=0, min_border_top=0, min_border_bottom=0,
               outline_line_color=None)
    for text, x, y, size, align in items:
        p.text(x=[x], y=[y], text=[text], text_align=align, text_baseline="middle",
               text_font=value(FONT), text_font_size=size, text_font_style="bold", text_color="black")
    return row(p)


CENTER_X = 42 + 968 / 2
head_a = make_header(80, [(main_title, 33, 22, "25px", "left"),
                          (panel_titles[0], CENTER_X, 68.3, "22px", "center")])
head_b = make_header(43, [(panel_titles[1], CENTER_X, 239.3 - 216, "21px", "center")])
head_c = make_header(42, [(panel_titles[2], CENTER_X, 415.8 - 395, "21px", "center")])
head_d = make_header(42, [(panel_titles[3], CENTER_X, 594.2 - 573, "21px", "center")])

fig_a = make_panel(a_series, a_colors, 4, False)
fig_b = make_panel(b_series, b_colors, 4, False)
fig_c = make_panel(c_series, c_colors, 4, False)
fig_d = make_panel(d_series, d_colors, 40, True)


def make_legend(W, H, left, right, bottom, heading, heading_y, labels, colors, nrows, col_x,
                row_y0, row_dy, sw):
    p = figure(frame_width=W, frame_height=H, x_range=Range1d(0, W), y_range=Range1d(H, 0),
               x_axis_type=None, y_axis_type=None, output_backend="svg", toolbar_location=None,
               min_border_left=left, min_border_right=right, min_border_top=0,
               min_border_bottom=bottom, outline_line_color="#4a4a4a", outline_line_width=1)
    p.text(x=[W / 2] * len(heading), y=heading_y, text=heading, text_align="center",
           text_baseline="middle", text_font=value(FONT), text_font_size="19px",
           text_font_style="bold", text_color="black")
    idx = list(range(len(labels)))
    xs0 = [col_x[i // nrows] for i in idx]
    ys = [row_y0 + (i % nrows) * row_dy for i in idx]
    p.segment(x0=xs0, y0=ys, x1=[x + sw for x in xs0], y1=ys, line_color=colors, line_width=2)
    p.text(x=[x + sw + 5 for x in xs0], y=ys, text=labels, text_align="left",
           text_baseline="middle", text_font=value(FONT), text_font_size="16px",
           text_color="#1a1a1a")
    return p


leg_a = make_legend(478, 175, 42, 0, 15,
                    ["(a) Geoprecision string (AWS) initial sensor level [m]"], [20],
                    a_labels, a_colors, 6, [89, 194, 308], 48, 19.8, 59)
leg_b = make_legend(480, 175, 13, 10, 15,
                    ["(b) Sommer short string (drilling site)", "initial sensor level [m]"], [19, 41],
                    b_labels, b_colors, 4, [85, 178, 279], 71, 20, 60)
leg_c = make_legend(480, 174, 42, 0, 0,
                    ["(c) Sommer long string (drilling site)", "initial sensor level [m]"], [36, 56],
                    c_labels, c_colors, 4, [196], 75, 20.3, 60)
leg_d = make_legend(477, 174, 14, 10, 0,
                    ["(d) Sommer string (Hintergrat Glacier)", "initial sensor level [m]"], [36, 56],
                    d_labels, d_colors, 5, [193], 75, 20.3, 61)

layout = column(head_a, fig_a, head_b, fig_b, head_c, fig_c, head_d, fig_d,
                row(leg_a, leg_b), row(leg_c, leg_d))
open("out.html", "w").write(file_html(layout, INLINE))
